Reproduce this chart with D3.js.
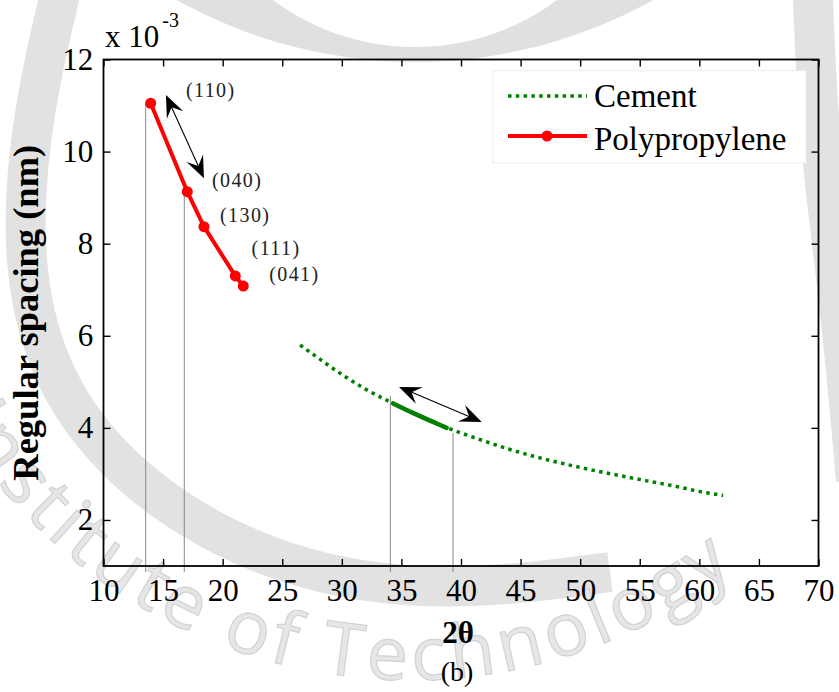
<!DOCTYPE html>
<html>
<head>
<meta charset="utf-8">
<script src="https://cdn.jsdelivr.net/npm/d3@7"></script>
<style>
  html, body { margin: 0; padding: 0; background: #ffffff; }
  svg { display: block; }
</style>
</head>
<body>
<div id="chart"></div>
<script>
// ---- data -------------------------------------------------------------
const xTicks = [10, 15, 20, 25, 30, 35, 40, 45, 50, 55, 60, 65, 70];
const yTicks = [2, 4, 6, 8, 10, 12];

// Polypropylene reflections: 2θ (deg) and regular spacing (×10⁻³ nm)
const ppTheta   = [13.96, 17.03, 18.43, 21.06, 21.73];
const ppSpacing = [11.05, 9.13, 8.37, 7.30, 7.08];
const ppPlanes  = ["(110)", "(040)", "(130)", "(111)", "(041)"];

// Cement spacing curve
const cementTheta   = [26.5, 28, 30, 32, 34, 36, 38, 40, 42, 44, 46, 48, 50, 52, 54, 56, 58, 60, 62];
const cementSpacing = [5.80, 5.52, 5.16, 4.84, 4.57, 4.32, 4.09, 3.89, 3.71, 3.54, 3.39, 3.26, 3.14, 3.03, 2.93, 2.83, 2.73, 2.62, 2.53];

// Cement range between the two guides, drawn solid
const cementBandTheta   = [34.3, 36, 38, 38.8];
const cementBandSpacing = [4.53, 4.32, 4.09, 4.00];

// Vertical guides: 2θ position and top of guide
const guideTheta = [13.54, 16.78, 34.07, 39.33];
const guideTop   = [11.05, 9.34, 4.69, 3.89];

// Plane label anchors (data units)
const planeLabelTheta   = [16.92, 19.10, 19.78, 22.43, 23.91];
const planeLabelSpacing = [11.19, 9.24, 8.48, 7.75, 7.20];

// Double-headed arrows (data units): [x1, y1, x2, y2]
const arrows = [
  [15.24, 11.23, 18.43, 9.42],
  [34.80, 4.89, 41.74, 4.13]
];

// ---- layout -----------------------------------------------------------
const W = 839, H = 692;
const serif = '"Liberation Serif", "Times New Roman", Times, serif';
const green = "#008000", red = "#ff0000";

const svg = d3.select("#chart").append("svg")
  .attr("width", W).attr("height", H)
  .attr("viewBox", `0 0 ${W} ${H}`);

const x = d3.scaleLinear().domain([10, 70]).range([103.5, 818.5]);
const y = d3.scaleLinear().domain([1, 12]).range([566, 59.5]);

// ---- background emblem ------------------------------------------------
const wm = svg.append("g").attr("class", "emblem");
const circlePath = (cx, cy, r) =>
  `M${cx - r},${cy}A${r},${r} 0 1,0 ${cx + r},${cy}A${r},${r} 0 1,0 ${cx - r},${cy}Z`;
wm.append("path")
  .attr("d", circlePath(415, -427, 489) + circlePath(415, -191, 238))
  .attr("fill-rule", "evenodd")
  .attr("fill", "#e0e0e0");

const band = d3.line().curve(d3.curveBasis);
wm.append("path")
  .attr("d", band([[66, -30], [32, 110], [20, 250], [45, 370], [110, 462], [205, 532], [320, 578], [460, 592], [610, 572]]))
  .attr("fill", "none").attr("stroke", "#e2e2e2").attr("stroke-width", 40);
wm.append("path")
  .attr("d", band([[812, -30], [818, 140], [840, 300], [856, 480]]))
  .attr("fill", "none").attr("stroke", "#e2e2e2").attr("stroke-width", 40);

// emblem lettering on a circular arc
const ringR = 530, ringCx = 410, ringCy = 150;
const a0 = 175 * Math.PI / 180, a1 = 5 * Math.PI / 180;
wm.append("path")
  .attr("id", "ringPath")
  .attr("fill", "none")
  .attr("d", `M${ringCx + ringR * Math.cos(a0)},${ringCy + ringR * Math.sin(a0)}A${ringR},${ringR} 0 0,0 ${ringCx + ringR * Math.cos(a1)},${ringCy + ringR * Math.sin(a1)}`);
wm.append("text")
  .attr("font-family", '"Open Sans", "Noto Sans", sans-serif')
  .attr("font-size", 74)
  .attr("letter-spacing", 5)
  .attr("fill", "#e6e6e6")
  .attr("stroke", "#d2d2d2")
  .attr("stroke-width", 1.2)
  .append("textPath")
  .attr("href", "#ringPath")
  .attr("startOffset", 237)
  .text("Institute of Technology");

// ---- plot content -----------------------------------------------------
const plot = svg.append("g");

// vertical guides
plot.selectAll("line.guide")
  .data(guideTheta.map((t, i) => ({ t, top: guideTop[i] })))
  .join("line")
  .attr("class", "guide")
  .attr("x1", d => x(d.t)).attr("x2", d => x(d.t))
  .attr("y1", d => y(d.top)).attr("y2", y(1) + 6)
  .attr("stroke", "#7a7a7a").attr("stroke-width", 0.9);

const line = d3.line().x(d => x(d[0])).y(d => y(d[1]));

// cement (dotted)
const cementPts = cementTheta.map((t, i) => [t, cementSpacing[i]]);
plot.append("path")
  .attr("d", line.curve(d3.curveMonotoneX)(cementPts))
  .attr("fill", "none").attr("stroke", green)
  .attr("stroke-width", 3.5).attr("stroke-dasharray", "3.5 4.3");

// cement highlighted range (solid)
const bandPts = cementBandTheta.map((t, i) => [t, cementBandSpacing[i]]);
plot.append("path")
  .attr("d", line.curve(d3.curveMonotoneX)(bandPts))
  .attr("fill", "none").attr("stroke", green)
  .attr("stroke-width", 4.5).attr("stroke-linecap", "round");

// polypropylene
const ppPts = ppTheta.map((t, i) => [t, ppSpacing[i]]);
plot.append("path")
  .attr("d", line.curve(d3.curveLinear)(ppPts))
  .attr("fill", "none").attr("stroke", red)
  .attr("stroke-width", 4).attr("stroke-linejoin", "round");
plot.selectAll("circle.pp")
  .data(ppPts)
  .join("circle")
  .attr("class", "pp")
  .attr("cx", d => x(d[0])).attr("cy", d => y(d[1]))
  .attr("r", 5.5).attr("fill", red);

// double-headed arrows
function arrowHead(tx, ty, ux, uy) {
  const L = 22, Wd = 9, notch = 0.62;
  const nx = -uy, ny = ux;
  const b1 = [tx + L * ux + Wd * nx, ty + L * uy + Wd * ny];
  const b2 = [tx + L * ux - Wd * nx, ty + L * uy - Wd * ny];
  const n = [tx + notch * L * ux, ty + notch * L * uy];
  return `M${tx},${ty}L${b1[0]},${b1[1]}L${n[0]},${n[1]}L${b2[0]},${b2[1]}Z`;
}
arrows.forEach(a => {
  const x1 = x(a[0]), y1 = y(a[1]), x2 = x(a[2]), y2 = y(a[3]);
  const len = Math.hypot(x2 - x1, y2 - y1);
  const ux = (x2 - x1) / len, uy = (y2 - y1) / len;
  plot.append("line")
    .attr("x1", x1 + 10 * ux).attr("y1", y1 + 10 * uy)
    .attr("x2", x2 - 10 * ux).attr("y2", y2 - 10 * uy)
    .attr("stroke", "#000").attr("stroke-width", 1.1);
  plot.append("path").attr("d", arrowHead(x1, y1, ux, uy)).attr("fill", "#000");
  plot.append("path").attr("d", arrowHead(x2, y2, -ux, -uy)).attr("fill", "#000");
});

// plane labels
plot.selectAll("text.plane")
  .data(ppPlanes.map((p, i) => ({ p, t: planeLabelTheta[i], s: planeLabelSpacing[i] })))
  .join("text")
  .attr("class", "plane")
  .attr("x", d => x(d.t)).attr("y", d => y(d.s))
  .attr("font-family", serif).attr("font-size", 20)
  .attr("letter-spacing", 1.4)
  .attr("fill", "#222")
  .text(d => d.p);

// ---- axes (box with inward ticks) -------------------------------------
const tickLen = 7;
function styleAxis(g) {
  g.select(".domain").remove();
  g.selectAll(".tick line").attr("stroke", "#000").attr("stroke-width", 1.4);
  g.selectAll("text").attr("font-family", serif).attr("font-size", 31).attr("fill", "#000");
}
svg.append("g").attr("transform", `translate(0,${y(1)})`)
  .call(d3.axisBottom(x).tickValues(xTicks).tickSizeInner(-tickLen).tickSizeOuter(0).tickPadding(12.5))
  .call(styleAxis);
svg.append("g").attr("transform", `translate(0,${y(12)})`)
  .call(d3.axisTop(x).tickValues(xTicks).tickFormat("").tickSizeInner(-tickLen).tickSizeOuter(0))
  .call(styleAxis);
svg.append("g").attr("transform", `translate(${x(10)},0)`)
  .call(d3.axisLeft(y).tickValues(yTicks).tickSizeInner(-tickLen).tickSizeOuter(0).tickPadding(10.2))
  .call(styleAxis);
svg.append("g").attr("transform", `translate(${x(70)},0)`)
  .call(d3.axisRight(y).tickValues(yTicks).tickFormat("").tickSizeInner(-tickLen).tickSizeOuter(0))
  .call(styleAxis);

svg.append("rect")
  .attr("x", x(10)).attr("y", y(12))
  .attr("width", x(70) - x(10)).attr("height", y(1) - y(12))
  .attr("fill", "none").attr("stroke", "#000").attr("stroke-width", 1.8);

// exponent label
const expo = svg.append("text")
  .attr("x", 105).attr("y", 46.7)
  .attr("font-family", serif).attr("font-size", 31).attr("fill", "#000");
expo.append("tspan").text("x 10");
expo.append("tspan").attr("font-size", 20).attr("dy", -19.5).attr("dx", 3).text("-3");

// axis titles
svg.append("text")
  .attr("x", (x(10) + x(70)) / 2 - 3).attr("y", 643)
  .attr("text-anchor", "middle")
  .attr("font-family", serif).attr("font-size", 31).attr("font-weight", "bold")
  .text("2θ");
svg.append("text")
  .attr("transform", `translate(37.5,${(y(1) + y(12)) / 2}) rotate(-90)`)
  .attr("text-anchor", "middle")
  .attr("font-family", serif).attr("font-size", 36.5).attr("font-weight", "bold")
  .text("Regular spacing (nm)");
svg.append("text")
  .attr("x", 457).attr("y", 681)
  .attr("text-anchor", "middle")
  .attr("font-family", serif).attr("font-size", 28)
  .text("(b)");

// ---- legend -----------------------------------------------------------
const legend = svg.append("g");
legend.append("rect")
  .attr("x", 492.7).attr("y", 70.7).attr("width", 313.3).attr("height", 92.3)
  .attr("fill", "#fff").attr("stroke", "#ececec").attr("stroke-width", 1);
legend.append("line")
  .attr("x1", 508).attr("x2", 587).attr("y1", 96).attr("y2", 96)
  .attr("stroke", green).attr("stroke-width", 3.5).attr("stroke-dasharray", "3.5 4.3");
legend.append("line")
  .attr("x1", 508).attr("x2", 587).attr("y1", 136).attr("y2", 136)
  .attr("stroke", red).attr("stroke-width", 4);
legend.append("circle").attr("cx", 547).attr("cy", 136).attr("r", 5.5).attr("fill", red);
legend.append("text").attr("x", 594).attr("y", 107.3)
  .attr("font-family", serif).attr("font-size", 33).text("Cement");
legend.append("text").attr("x", 594).attr("y", 150)
  .attr("font-family", serif).attr("font-size", 33).text("Polypropylene");
</script>
</body>
</html>
